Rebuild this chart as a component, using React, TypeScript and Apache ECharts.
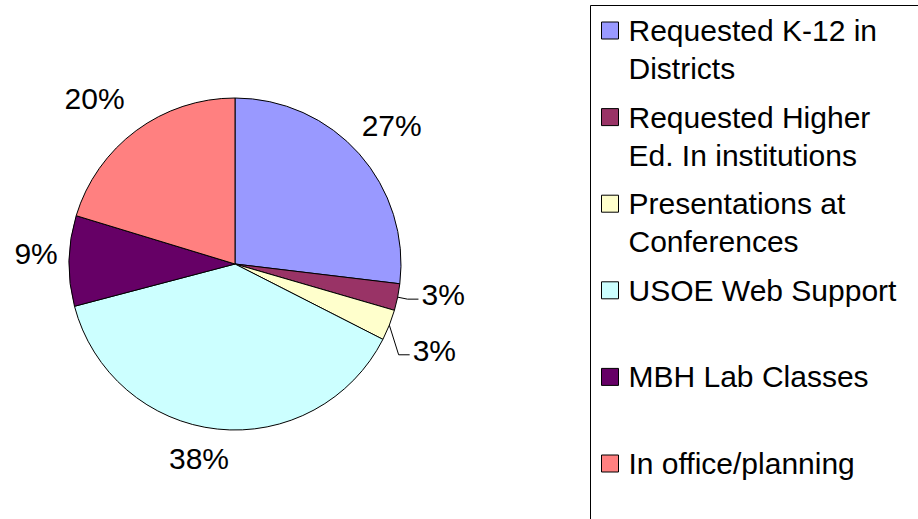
import React, { useEffect, useRef } from "react";
import * as echarts from "echarts";

// ---- data ----
const categories = [
  "Requested K-12 in Districts",
  "Requested Higher Ed. In institutions",
  "Presentations at Conferences",
  "USOE Web Support",
  "MBH Lab Classes",
  "In office/planning",
];
const legendLines = [
  ["Requested K-12 in", "Districts"],
  ["Requested Higher", "Ed. In institutions"],
  ["Presentations at", "Conferences"],
  ["USOE Web Support"],
  ["MBH Lab Classes"],
  ["In office/planning"],
];
const shares = [26.9, 2.6, 3.0, 38.4, 8.8, 20.3];
const colors = ["#9999FF", "#993366", "#FFFFCC", "#CCFFFF", "#660066", "#FF8080"];

// ---- layout ----
const FONT = "'Liberation Sans', Arial, Helvetica, sans-serif";
const CX = 235;
const CY = 264;
const R = 166;
const SMALL = 5; // slices below this share get a leader line
const leaderRank = shares.map((v, i) =>
  v < SMALL ? shares.slice(0, i).filter((s) => s < SMALL).length : -1
);
// small hand nudges of the outside labels (px), by slice order
const labelNudge = [
  [-1.5, 2],
  [0, 0],
  [0, 0],
  [-15, -1],
  [2, -7],
  [-16, 2],
];

// every legend entry gets a blank first line and a second line, so that the
// first text line sits level with the marker and all slots are the same height
const legendText = (name: string) => {
  const lines = legendLines[categories.indexOf(name)];
  return [" ", lines[0], lines[1] ?? " "].join("\n");
};

export default function App() {
  const ref = useRef<HTMLDivElement>(null);
  useEffect(() => {
    if (!ref.current) return;
    const chart = echarts.init(ref.current, null, { renderer: "svg" });
    chart.setOption({
      animation: false,
      backgroundColor: "#ffffff",
      textStyle: { fontFamily: FONT },
      graphic: [
        {
          type: "rect",
          shape: { x: 590.5, y: 5.5, width: 500, height: 600 },
          style: { fill: "none", stroke: "#000", lineWidth: 1 },
          silent: true,
        },
      ],
      legend: {
        orient: "vertical",
        left: 601,
        top: -26.5,
        height: 1000,
        padding: 0,
        itemGap: -27.4,
        itemWidth: 17,
        itemHeight: 17,
        icon: "rect",
        selectedMode: false,
        itemStyle: { borderColor: "#000", borderWidth: 1 },
        textStyle: {
          fontSize: 30,
          lineHeight: 38,
          color: "#000",
          fontFamily: FONT,
          padding: [0, 0, 0, 5],
        },
        formatter: legendText,
        data: categories,
      },
      series: [
        {
          type: "pie",
          center: [CX, CY],
          radius: R,
          startAngle: 90,
          clockwise: true,
          avoidLabelOverlap: false,
          emphasis: { disabled: true },
          itemStyle: { borderColor: "#000", borderWidth: 1 },
          label: {
            show: true,
            position: "outside",
            fontSize: 30,
            color: "#000",
            fontFamily: FONT,
            formatter: (p: any) => Math.round(p.percent) + "%",
          },
          labelLine: {
            show: true,
            length: 10,
            length2: 11,
            lineStyle: { color: "#000", width: 1 },
          },
          labelLayout: (params: any) => {
            const pts = params.labelLinePoints;
            if (!pts || !pts.length) return {};
            const x0 = pts[0][0];
            const y0 = pts[0][1];
            let ux = x0 - CX;
            let uy = y0 - CY;
            const n = Math.hypot(ux, uy) || 1;
            ux /= n;
            uy /= n;
            const i = params.dataIndex;
            const rank = leaderRank[i];
            if (rank >= 0) {
              const x1 = x0 + ux * 10;
              const y1 = y0 + uy * 10 + rank * 26;
              const x2 = x1 + 11;
              return {
                x: x2 + 3,
                y: y1 - 4.5,
                align: "left",
                verticalAlign: "middle",
                labelLinePoints: [
                  [x0, y0],
                  [x1, y1],
                  [x2, y1],
                ],
              };
            }
            const w = params.labelRect.width;
            const h = params.labelRect.height;
            const d = 13 + (Math.abs(ux) * w) / 2 + (Math.abs(uy) * h) / 2;
            return {
              x: x0 + ux * d + labelNudge[i][0],
              y: y0 + uy * d + labelNudge[i][1],
              align: "center",
              verticalAlign: "middle",
            };
          },
          data: shares.map((v, i) => ({
            name: categories[i],
            value: v,
            itemStyle: { color: colors[i] },
            labelLine:
              leaderRank[i] < 0 ? { lineStyle: { opacity: 0 } } : undefined,
          })),
        },
      ],
    });
    return () => chart.dispose();
  }, []);
  return (
    <div
      ref={ref}
      style={{ position: "absolute", left: 0, top: 0, width: 918, height: 519 }}
    />
  );
}
